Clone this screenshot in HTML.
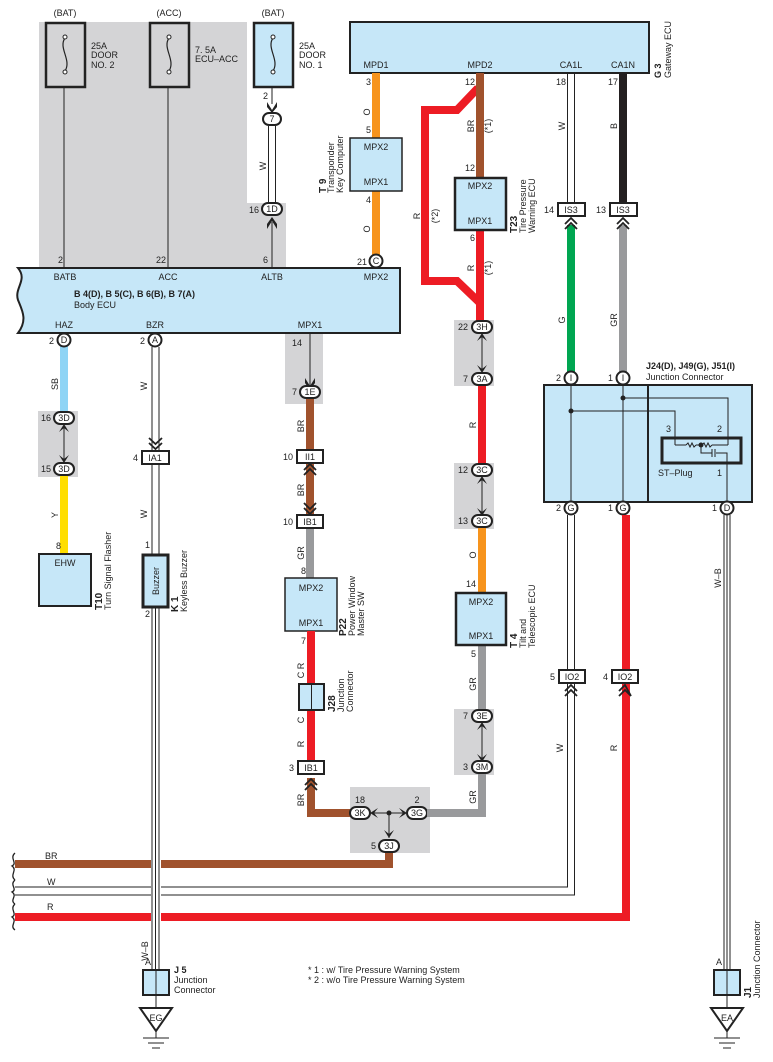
<!DOCTYPE html>
<html><head><meta charset="utf-8"><style>
html,body{margin:0;padding:0;background:#fff}
svg{display:block;font-family:"Liberation Sans",Arial,sans-serif}
text{font-size:9px;fill:#222}
.c{text-anchor:middle}
.e{text-anchor:end}
.b{font-weight:bold}
</style></head><body>
<svg width="773" height="1062" viewBox="0 0 773 1062" xmlns="http://www.w3.org/2000/svg">
<!-- gray regions -->
<path d="M39 22H247V203H286V268H39Z" fill="#d4d4d6"/>
<rect x="285" y="333" width="38" height="71" fill="#d4d4d6"/>
<rect x="38" y="411" width="40" height="66" fill="#d4d4d6"/>
<rect x="454" y="320" width="40" height="66" fill="#d4d4d6"/>
<rect x="454" y="463" width="40" height="66" fill="#d4d4d6"/>
<rect x="454" y="709" width="40" height="66" fill="#d4d4d6"/>
<rect x="350" y="787" width="80" height="66" fill="#d4d4d6"/>

<!-- fuses -->
<text x="65" y="16" class="c">(BAT)</text>
<text x="169" y="16" class="c">(ACC)</text>
<text x="273" y="16" class="c">(BAT)</text>
<rect x="46" y="23" width="39" height="64" fill="none" stroke="#222" stroke-width="2.5"/>
<rect x="150" y="23" width="39" height="64" fill="none" stroke="#222" stroke-width="2.5"/>
<rect x="254" y="23" width="39" height="64" fill="#c6e7f8" stroke="#222" stroke-width="2.5"/>
<g fill="none" stroke="#222" stroke-width="1.2">
<path d="M65 38C58 48 72 60 65 71"/><path d="M169 38C162 48 176 60 169 71"/><path d="M273 38C266 48 280 60 273 71"/>
</g>
<g fill="#fff" stroke="#222"><circle cx="65" cy="37" r="2"/><circle cx="65" cy="72" r="2"/><circle cx="169" cy="37" r="2"/><circle cx="169" cy="72" r="2"/><circle cx="273" cy="37" r="2"/><circle cx="273" cy="72" r="2"/></g>
<text x="91" y="49">25A</text><text x="91" y="58">DOOR</text><text x="91" y="68">NO. 2</text>
<text x="195" y="53">7. 5A</text><text x="195" y="62">ECU–ACC</text>
<text x="299" y="49">25A</text><text x="299" y="58">DOOR</text><text x="299" y="68">NO. 1</text>
<g stroke="#222" stroke-width="1"><line x1="64" y1="87" x2="64" y2="268"/><line x1="168" y1="87" x2="168" y2="268"/><line x1="272" y1="87" x2="272" y2="104"/><line x1="272" y1="222" x2="272" y2="268"/></g>
<text x="58" y="263">2</text><text x="156" y="263">22</text><text x="263" y="263">6</text>
<text x="263" y="99">2</text>
<!-- W double from 7 to 1D -->
<g stroke="#222" stroke-width="1"><line x1="268.5" y1="126" x2="268.5" y2="202"/><line x1="275.5" y1="126" x2="275.5" y2="202"/></g>
<text transform="rotate(-90 266 166)" x="266" y="166" class="c">W</text>
<path d="M267 102L272 110L277 102L277 107L272 113L267 107Z" fill="#222"/>
<path d="M267 229L272 221L277 229L277 224L272 217L267 224Z" fill="#222"/>
<rect x="263" y="113" width="18" height="12" rx="6" fill="#fff" stroke="#222" stroke-width="2"/><text x="272" y="122" class="c">7</text>
<rect x="262" y="203" width="20" height="12" rx="6" fill="#fff" stroke="#222" stroke-width="2"/><text x="272" y="212" class="c">1D</text>
<text x="259" y="213" class="e">16</text>

<!-- Gateway ECU -->
<rect x="350" y="22" width="299" height="51" fill="#c6e7f8" stroke="#222" stroke-width="2"/>
<text x="376" y="68" class="c">MPD1</text><text x="480" y="68" class="c">MPD2</text><text x="571" y="68" class="c">CA1L</text><text x="623" y="68" class="c">CA1N</text>
<text transform="rotate(-90 661 78)" x="661" y="78" class="b">G 3</text>
<text transform="rotate(-90 671 78)" x="671" y="78">Gateway ECU</text>

<!-- orange T9 -->
<line x1="376" y1="73" x2="376" y2="256" stroke="#f7941d" stroke-width="8"/>
<rect x="350" y="138" width="52" height="53" fill="#c6e7f8" stroke="#222" stroke-width="1.5"/>
<text x="376" y="150" class="c">MPX2</text><text x="376" y="185" class="c">MPX1</text>
<text x="371" y="85" class="e">3</text><text x="371" y="133" class="e">5</text><text x="371" y="203" class="e">4</text>
<text transform="rotate(-90 370 112)" x="370" y="112" class="c">O</text>
<text transform="rotate(-90 370 229)" x="370" y="229" class="c">O</text>
<text transform="rotate(-90 326 193)" x="326" y="193" class="b" style="font-size:10px">T 9</text>
<text transform="rotate(-90 334 193)" x="334" y="193">Transponder</text>
<text transform="rotate(-90 343 193)" x="343" y="193">Key Computer</text>
<circle cx="376" cy="261" r="6.5" fill="#fff" stroke="#222" stroke-width="2"/><text x="376" y="264" class="c">C</text>
<text x="367" y="265" class="e">21</text>

<!-- MPD2 -->
<path d="M478 88L457 110H425V281H457L480 303" fill="none" stroke="#ed1c24" stroke-width="8"/>
<line x1="480" y1="73" x2="480" y2="178" stroke="#a0522d" stroke-width="8"/>
<line x1="480" y1="230" x2="480" y2="322" stroke="#ed1c24" stroke-width="8"/>
<rect x="455" y="178" width="51" height="52" fill="#c6e7f8" stroke="#222" stroke-width="2.5"/>
<text x="480" y="189" class="c">MPX2</text><text x="480" y="224" class="c">MPX1</text>
<text x="475" y="85" class="e">12</text><text x="475" y="171" class="e">12</text><text x="475" y="241" class="e">6</text>
<text transform="rotate(-90 474 126)" x="474" y="126" class="c">BR</text>
<text transform="rotate(-90 491 126)" x="491" y="126" class="c">(*1)</text>
<text transform="rotate(-90 474 268)" x="474" y="268" class="c">R</text>
<text transform="rotate(-90 491 268)" x="491" y="268" class="c">(*1)</text>
<text transform="rotate(-90 420 216)" x="420" y="216" class="c">R</text>
<text transform="rotate(-90 438 216)" x="438" y="216" class="c">(*2)</text>
<text transform="rotate(-90 517 233)" x="517" y="233" class="b" style="font-size:10px">T23</text>
<text transform="rotate(-90 526 233)" x="526" y="233">Tire Pressure</text>
<text transform="rotate(-90 535 233)" x="535" y="233">Warning ECU</text>

<!-- CA1L / CA1N -->
<g stroke="#222" stroke-width="1"><line x1="567.5" y1="73" x2="567.5" y2="203"/><line x1="574.5" y1="73" x2="574.5" y2="203"/></g>
<text x="566" y="85" class="e">18</text><text x="618" y="85" class="e">17</text>
<text transform="rotate(-90 565 126)" x="565" y="126" class="c">W</text>
<line x1="623" y1="73" x2="623" y2="204" stroke="#231f20" stroke-width="8"/>
<text transform="rotate(-90 617 126)" x="617" y="126" class="c">B</text>
<line x1="571" y1="225" x2="571" y2="372" stroke="#00a651" stroke-width="8"/>
<line x1="623" y1="225" x2="623" y2="372" stroke="#999a9c" stroke-width="8"/>
<text transform="rotate(-90 565 320)" x="565" y="320" class="c">G</text>
<text transform="rotate(-90 617 320)" x="617" y="320" class="c">GR</text>
<rect x="558" y="203" width="27" height="13" fill="#fff" stroke="#222" stroke-width="2"/><text x="571" y="213" class="c">IS3</text>
<rect x="610" y="203" width="27" height="13" fill="#fff" stroke="#222" stroke-width="2"/><text x="623" y="213" class="c">IS3</text>
<text x="554" y="213" class="e">14</text><text x="606" y="213" class="e">13</text>
<g fill="none" stroke="#222" stroke-width="1.8"><path d="M565 224L571 218L577 224M565 229L571 223L577 229"/><path d="M617 224L623 218L629 224M617 229L623 223L629 229"/></g>

<!-- Junction connector -->
<text x="646" y="369" class="b">J24(D), J49(G), J51(I)</text>
<text x="646" y="380">Junction Connector</text>
<rect x="544" y="385" width="208" height="117" fill="#c6e7f8" stroke="#222" stroke-width="2"/>
<line x1="648" y1="385" x2="648" y2="502" stroke="#222" stroke-width="2"/>
<g stroke="#222" stroke-width="1" fill="none">
<line x1="571" y1="385" x2="571" y2="502"/><line x1="623" y1="385" x2="623" y2="502"/>
<path d="M571 411H675V445"/><path d="M623 398H728V445"/>
<path d="M675 445H686M696 445H702M712 445H728"/>
<path d="M686 445l2-2 2 4 2-4 2 4 2-2"/><path d="M702 445l2-2 2 4 2-4 2 4 2-2"/>
<path d="M701 445V453H712M716 453H727V502"/>
<path d="M712 449V457M715 449V457"/>
</g>
<circle cx="571" cy="411" r="2.5" fill="#222"/><circle cx="623" cy="398" r="2.5" fill="#222"/><circle cx="701" cy="445" r="2.5" fill="#222"/>
<rect x="662" y="438" width="79" height="25" fill="none" stroke="#222" stroke-width="3"/>
<text x="666" y="432">3</text><text x="717" y="432">2</text><text x="658" y="476">ST–Plug</text><text x="717" y="476">1</text>
<g fill="#fff" stroke="#222" stroke-width="2"><circle cx="571" cy="378" r="6.5"/><circle cx="623" cy="378" r="6.5"/><circle cx="571" cy="508" r="6.5"/><circle cx="623" cy="508" r="6.5"/><circle cx="727" cy="508" r="6.5"/></g>
<text x="571" y="381" class="c">I</text><text x="623" y="381" class="c">I</text><text x="571" y="511" class="c">G</text><text x="623" y="511" class="c">G</text><text x="727" y="511" class="c">D</text>
<text x="561" y="381" class="e">2</text><text x="613" y="381" class="e">1</text><text x="561" y="511" class="e">2</text><text x="613" y="511" class="e">1</text><text x="717" y="511" class="e">1</text>

<!-- lower right wires -->
<g stroke="#222" stroke-width="1" fill="none">
<path d="M567.5 515V887H15"/><path d="M574.5 515V895H15"/>
<line x1="724" y1="515" x2="724" y2="971"/><line x1="727" y1="515" x2="727" y2="971"/><line x1="730" y1="515" x2="730" y2="971"/>
</g>
<path d="M626 515V917H15" fill="none" stroke="#ed1c24" stroke-width="8"/>
<rect x="559" y="670" width="26" height="13" fill="#fff" stroke="#222" stroke-width="2"/><text x="572" y="680" class="c">IO2</text>
<rect x="612" y="670" width="26" height="13" fill="#fff" stroke="#222" stroke-width="2"/><text x="625" y="680" class="c">IO2</text>
<text x="555" y="680" class="e">5</text><text x="608" y="680" class="e">4</text>
<g fill="none" stroke="#222" stroke-width="1.8"><path d="M565 691L571 685L577 691M565 696L571 690L577 696"/><path d="M619 691L625 685L631 696M619 696L625 690L631 696"/></g>
<text transform="rotate(-90 563 748)" x="563" y="748" class="c">W</text>
<text transform="rotate(-90 617 748)" x="617" y="748" class="c">R</text>
<text transform="rotate(-90 721 578)" x="721" y="578" class="c">W–B</text>
<text x="719" y="965" class="c">A</text>
<rect x="714" y="970" width="26" height="25" fill="#c6e7f8" stroke="#222" stroke-width="2"/><line x1="727" y1="970" x2="727" y2="1008" stroke="#222"/>
<path d="M711 1008H743L727 1031Z" fill="#fff" stroke="#222" stroke-width="2"/><text x="727" y="1021" class="c">EA</text>
<g stroke="#222"><line x1="727" y1="1031" x2="727" y2="1038"/><line x1="714" y1="1038" x2="740" y2="1038"/><line x1="719" y1="1043" x2="735" y2="1043"/><line x1="723" y1="1048" x2="731" y2="1048"/></g>
<text transform="rotate(-90 751 998)" x="751" y="998" class="b" style="font-size:10px">J1</text>
<text transform="rotate(-90 760 998)" x="760" y="998">Junction Connector</text>

<!-- Body ECU -->
<path d="M18 268H400V333H18C28 320 22 310 18 300C14 288 28 280 18 268Z" fill="#c6e7f8" stroke="#222" stroke-width="2"/>
<text x="65" y="280" class="c">BATB</text><text x="168" y="280" class="c">ACC</text><text x="272" y="280" class="c">ALTB</text><text x="376" y="280" class="c">MPX2</text>
<text x="74" y="297" class="b">B 4(D), B 5(C), B 6(B), B 7(A)</text>
<text x="74" y="308">Body ECU</text>
<text x="64" y="328" class="c">HAZ</text><text x="155" y="328" class="c">BZR</text><text x="310" y="328" class="c">MPX1</text>

<!-- HAZ -->
<line x1="64" y1="346" x2="64" y2="412" stroke="#8fd4f5" stroke-width="8"/>
<line x1="64" y1="475" x2="64" y2="554" stroke="#ffde00" stroke-width="8"/>
<circle cx="64" cy="340" r="6.5" fill="#fff" stroke="#222" stroke-width="2"/><text x="64" y="343" class="c">D</text><text x="54" y="344" class="e">2</text>
<text transform="rotate(-90 58 384)" x="58" y="384" class="c">SB</text>
<text transform="rotate(-90 58 515)" x="58" y="515" class="c">Y</text>
<line x1="64" y1="425" x2="64" y2="462" stroke="#222"/>
<path d="M59 432L64 424L69 432L64 428Z M59 455L64 463L69 455L64 459Z" fill="#222"/>
<rect x="54" y="412" width="20" height="12" rx="6" fill="#fff" stroke="#222" stroke-width="2"/><text x="64" y="421" class="c">3D</text><text x="51" y="421" class="e">16</text>
<rect x="54" y="463" width="20" height="12" rx="6" fill="#fff" stroke="#222" stroke-width="2"/><text x="64" y="472" class="c">3D</text><text x="51" y="472" class="e">15</text>
<text x="61" y="549" class="e">8</text>
<rect x="39" y="554" width="52" height="52" fill="#c6e7f8" stroke="#222" stroke-width="2"/><text x="65" y="566" class="c">EHW</text>
<text transform="rotate(-90 102 610)" x="102" y="610" class="b" style="font-size:10px">T10</text>
<text transform="rotate(-90 111 610)" x="111" y="610">Turn Signal Flasher</text>

<!-- BZR -->
<circle cx="155" cy="340" r="6.5" fill="#fff" stroke="#222" stroke-width="2"/><text x="155" y="343" class="c">A</text><text x="145" y="344" class="e">2</text>
<g stroke="#222" stroke-width="1"><line x1="152" y1="347" x2="152" y2="450"/><line x1="159" y1="347" x2="159" y2="450"/><line x1="152" y1="464" x2="152" y2="554"/><line x1="159" y1="464" x2="159" y2="554"/>
<line x1="152" y1="607" x2="152" y2="971"/><line x1="155.5" y1="607" x2="155.5" y2="971"/><line x1="159" y1="607" x2="159" y2="971"/></g>
<path d="M149 438L155.5 444L162 438M149 443L155.5 449L162 443" fill="none" stroke="#222" stroke-width="1.8"/>
<text transform="rotate(-90 147 386)" x="147" y="386" class="c">W</text>
<text transform="rotate(-90 147 514)" x="147" y="514" class="c">W</text>
<rect x="142" y="451" width="27" height="13" fill="#fff" stroke="#222" stroke-width="2"/><text x="155" y="461" class="c">IA1</text><text x="138" y="461" class="e">4</text>
<text x="150" y="548" class="e">1</text><text x="150" y="617" class="e">2</text>
<rect x="143" y="555" width="25" height="52" fill="#c6e7f8" stroke="#222" stroke-width="3"/>
<text transform="rotate(-90 159 581)" x="159" y="581" class="c">Buzzer</text>
<text transform="rotate(-90 178 612)" x="178" y="612" class="b" style="font-size:10px">K 1</text>
<text transform="rotate(-90 187 612)" x="187" y="612">Keyless Buzzer</text>

<!-- MPX1 chain -->
<line x1="310" y1="333" x2="310" y2="386" stroke="#222"/>
<path d="M305 378L310 386L315 378L315 383L310 390L305 383Z" fill="#222"/>
<text x="302" y="346" class="e">14</text>
<line x1="310" y1="398" x2="310" y2="578" stroke="#a0522d" stroke-width="8"/>
<line x1="310" y1="528" x2="310" y2="578" stroke="#999a9c" stroke-width="8"/>
<rect x="300" y="386" width="20" height="12" rx="6" fill="#fff" stroke="#222" stroke-width="2"/><text x="310" y="395" class="c">1E</text><text x="297" y="395" class="e">7</text>
<text transform="rotate(-90 304 426)" x="304" y="426" class="c">BR</text>
<text transform="rotate(-90 304 490)" x="304" y="490" class="c">BR</text>
<text transform="rotate(-90 304 553)" x="304" y="553" class="c">GR</text>
<rect x="297" y="450" width="26" height="13" fill="#fff" stroke="#222" stroke-width="2"/><text x="310" y="460" class="c">II1</text><text x="293" y="460" class="e">10</text>
<rect x="297" y="515" width="26" height="13" fill="#fff" stroke="#222" stroke-width="2"/><text x="310" y="525" class="c">IB1</text><text x="293" y="525" class="e">10</text>
<g fill="none" stroke="#222" stroke-width="1.8"><path d="M304 470L310 464L316 470M304 475L310 469L316 475"/><path d="M304 503L310 509L316 503M304 508L310 514L316 508"/></g>
<text x="306" y="574" class="e">8</text>
<rect x="285" y="578" width="52" height="53" fill="#c6e7f8" stroke="#222" stroke-width="1.5"/>
<text x="311" y="591" class="c">MPX2</text><text x="311" y="626" class="c">MPX1</text>
<text transform="rotate(-90 346 636)" x="346" y="636" class="b" style="font-size:10px">P22</text>
<text transform="rotate(-90 355 636)" x="355" y="636">Power Window</text>
<text transform="rotate(-90 364 636)" x="364" y="636">Master SW</text>
<line x1="311" y1="631" x2="311" y2="761" stroke="#ed1c24" stroke-width="8"/>
<text x="306" y="644" class="e">7</text>
<text transform="rotate(-90 304 666)" x="304" y="666" class="c">R</text>
<text transform="rotate(-90 304 675)" x="304" y="675" class="c">C</text>
<text transform="rotate(-90 304 720)" x="304" y="720" class="c">C</text>
<text transform="rotate(-90 304 744)" x="304" y="744" class="c">R</text>
<rect x="299" y="684" width="25" height="26" fill="#c6e7f8" stroke="#222" stroke-width="2"/><line x1="311.5" y1="684" x2="311.5" y2="710" stroke="#222"/>
<text transform="rotate(-90 335 712)" x="335" y="712" class="b" style="font-size:10px">J28</text>
<text transform="rotate(-90 344 712)" x="344" y="712">Junction</text>
<text transform="rotate(-90 353 712)" x="353" y="712">Connector</text>
<path d="M311 778V813H352" fill="none" stroke="#a0522d" stroke-width="8"/>
<rect x="298" y="761" width="26" height="13" fill="#fff" stroke="#222" stroke-width="2"/><text x="311" y="771" class="c">IB1</text><text x="294" y="771" class="e">3</text>
<path d="M305 785L311 779L317 785M305 790L311 784L317 790" fill="none" stroke="#222" stroke-width="1.8"/>
<text transform="rotate(-90 304 800)" x="304" y="800" class="c">BR</text>

<!-- 3K/3G/3J -->
<line x1="370" y1="813" x2="407" y2="813" stroke="#222"/>
<line x1="389" y1="813" x2="389" y2="838" stroke="#222"/>
<path d="M378 808L370 813L378 818L374 813Z M399 808L407 813L399 818L403 813Z M384 830L389 838L394 830L389 834Z" fill="#222"/>
<circle cx="389" cy="813" r="2.5" fill="#222"/>
<rect x="350" y="807" width="20" height="12" rx="6" fill="#fff" stroke="#222" stroke-width="2"/><text x="360" y="816" class="c">3K</text><text x="360" y="803" class="c">18</text>
<rect x="407" y="807" width="20" height="12" rx="6" fill="#fff" stroke="#222" stroke-width="2"/><text x="417" y="816" class="c">3G</text><text x="417" y="803" class="c">2</text>
<path d="M389 852V864H15" fill="none" stroke="#a0522d" stroke-width="8"/>
<rect x="379" y="840" width="20" height="12" rx="6" fill="#fff" stroke="#222" stroke-width="2"/><text x="389" y="849" class="c">3J</text><text x="376" y="849" class="e">5</text>
<path d="M427 813H482V773" fill="none" stroke="#999a9c" stroke-width="8"/>

<!-- right chain to T4 -->
<line x1="482" y1="385" x2="482" y2="465" stroke="#ed1c24" stroke-width="8"/>
<line x1="482" y1="527" x2="482" y2="593" stroke="#f7941d" stroke-width="8"/>
<line x1="482" y1="646" x2="482" y2="711" stroke="#999a9c" stroke-width="8"/>
<g stroke="#222"><line x1="482" y1="334" x2="482" y2="372"/><line x1="482" y1="477" x2="482" y2="515"/><line x1="482" y1="723" x2="482" y2="761"/></g>
<path d="M477 341L482 333L487 341L482 337Z M477 365L482 373L487 365L482 369Z M477 484L482 476L487 484L482 480Z M477 508L482 516L487 508L482 512Z M477 730L482 722L487 730L482 726Z M477 754L482 762L487 754L482 758Z" fill="#222"/>
<rect x="472" y="321" width="20" height="12" rx="6" fill="#fff" stroke="#222" stroke-width="2"/><text x="482" y="330" class="c">3H</text><text x="468" y="330" class="e">22</text>
<rect x="472" y="373" width="20" height="12" rx="6" fill="#fff" stroke="#222" stroke-width="2"/><text x="482" y="382" class="c">3A</text><text x="468" y="382" class="e">7</text>
<rect x="472" y="464" width="20" height="12" rx="6" fill="#fff" stroke="#222" stroke-width="2"/><text x="482" y="473" class="c">3C</text><text x="468" y="473" class="e">12</text>
<rect x="472" y="515" width="20" height="12" rx="6" fill="#fff" stroke="#222" stroke-width="2"/><text x="482" y="524" class="c">3C</text><text x="468" y="524" class="e">13</text>
<rect x="472" y="710" width="20" height="12" rx="6" fill="#fff" stroke="#222" stroke-width="2"/><text x="482" y="719" class="c">3E</text><text x="468" y="719" class="e">7</text>
<rect x="472" y="761" width="20" height="12" rx="6" fill="#fff" stroke="#222" stroke-width="2"/><text x="482" y="770" class="c">3M</text><text x="468" y="770" class="e">3</text>
<text transform="rotate(-90 476 425)" x="476" y="425" class="c">R</text>
<text transform="rotate(-90 476 555)" x="476" y="555" class="c">O</text>
<text transform="rotate(-90 476 684)" x="476" y="684" class="c">GR</text>
<text transform="rotate(-90 476 797)" x="476" y="797" class="c">GR</text>
<text x="476" y="587" class="e">14</text><text x="476" y="657" class="e">5</text>
<rect x="456" y="593" width="50" height="52" fill="#c6e7f8" stroke="#222" stroke-width="2.5"/>
<text x="481" y="605" class="c">MPX2</text><text x="481" y="639" class="c">MPX1</text>
<text transform="rotate(-90 517 648)" x="517" y="648" class="b" style="font-size:10px">T 4</text>
<text transform="rotate(-90 526 648)" x="526" y="648">Tilt and</text>
<text transform="rotate(-90 535 648)" x="535" y="648">Telescopic ECU</text>

<!-- bus labels & braces -->
<text x="45" y="859">BR</text><text x="47" y="885">W</text><text x="47" y="910">R</text>
<g fill="none" stroke="#222" stroke-width="1.3"><path d="M15 853C9 858 18 863 12 866C18 870 9 875 15 880"/><path d="M15 880C9 885 18 889 12 892C18 896 9 900 15 904"/><path d="M15 904C9 909 18 914 12 917C18 921 9 926 15 930"/></g>
<!-- re-draw W-B over bus gap -->
<rect x="151" y="855" width="10" height="70" fill="#fff"/>
<g stroke="#222" stroke-width="1"><line x1="152" y1="850" x2="152" y2="971"/><line x1="155.5" y1="850" x2="155.5" y2="971"/><line x1="159" y1="850" x2="159" y2="971"/></g>
<text transform="rotate(-90 148 951)" x="148" y="951" class="c">W–B</text>
<text x="148" y="965" class="c">A</text>
<rect x="143" y="970" width="26" height="25" fill="#c6e7f8" stroke="#222" stroke-width="2"/><line x1="156" y1="970" x2="156" y2="1008" stroke="#222"/>
<path d="M140 1008H172L156 1031Z" fill="#fff" stroke="#222" stroke-width="2"/><text x="156" y="1021" class="c">EG</text>
<g stroke="#222"><line x1="156" y1="1031" x2="156" y2="1038"/><line x1="143" y1="1038" x2="169" y2="1038"/><line x1="148" y1="1043" x2="164" y2="1043"/><line x1="152" y1="1048" x2="160" y2="1048"/></g>
<text x="174" y="973" class="b">J 5</text><text x="174" y="983">Junction</text><text x="174" y="993">Connector</text>
<text x="308" y="973">* 1 : w/ Tire Pressure Warning System</text>
<text x="308" y="983">* 2 : w/o Tire Pressure Warning System</text>
</svg>
</body></html>
